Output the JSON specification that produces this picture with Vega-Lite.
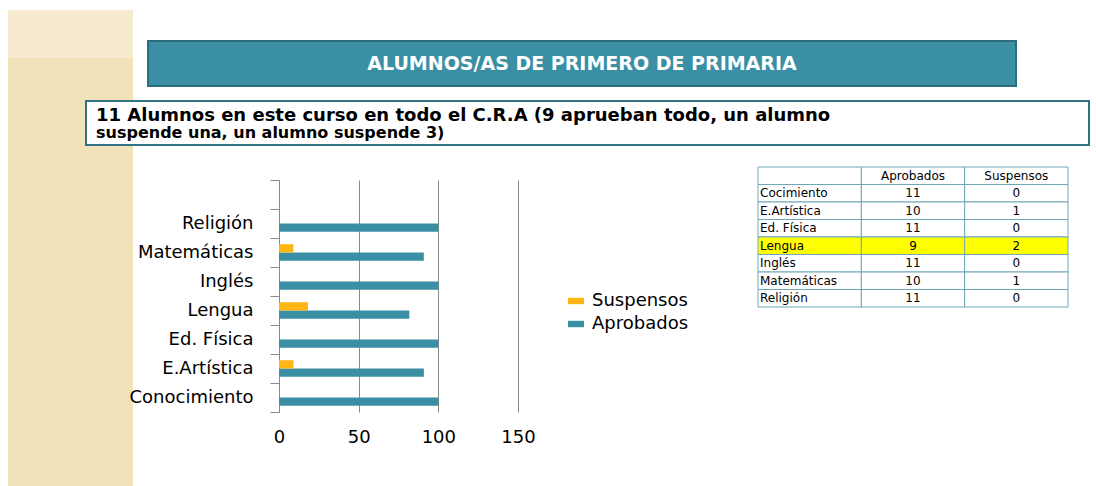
{
  "$schema": "https://vega.github.io/schema/vega-lite/v6.json",
  "background": "white",
  "padding": {"left": 8, "top": 10, "right": 0, "bottom": 0},
  "config": {
    "view": {"stroke": null},
    "font": "DejaVu Sans",
    "concat": {"spacing": 0}
  },
  "datasets": {
    "vacio": [],
    "cabecera": [{"texto": "ALUMNOS/AS DE PRIMERO DE PRIMARIA"}],
    "resultados": [
      {"asignatura": "Conocimiento", "serie": "Aprobados", "valor": 100},
      {"asignatura": "Conocimiento", "serie": "Suspensos", "valor": 0},
      {"asignatura": "E.Artística", "serie": "Aprobados", "valor": 90.9},
      {"asignatura": "E.Artística", "serie": "Suspensos", "valor": 9.1},
      {"asignatura": "Ed. Física", "serie": "Aprobados", "valor": 100},
      {"asignatura": "Ed. Física", "serie": "Suspensos", "valor": 0},
      {"asignatura": "Lengua", "serie": "Aprobados", "valor": 81.8},
      {"asignatura": "Lengua", "serie": "Suspensos", "valor": 18.2},
      {"asignatura": "Inglés", "serie": "Aprobados", "valor": 100},
      {"asignatura": "Inglés", "serie": "Suspensos", "valor": 0},
      {"asignatura": "Matemáticas", "serie": "Aprobados", "valor": 90.9},
      {"asignatura": "Matemáticas", "serie": "Suspensos", "valor": 9.1},
      {"asignatura": "Religión", "serie": "Aprobados", "valor": 100},
      {"asignatura": "Religión", "serie": "Suspensos", "valor": 0}
    ],
    "tabla": [
      {"Asignatura": "", "Aprobados": "Aprobados", "Suspensos": "Suspensos"},
      {"Asignatura": "Cocimiento", "Aprobados": "11", "Suspensos": "0"},
      {"Asignatura": "E.Artística", "Aprobados": "10", "Suspensos": "1"},
      {"Asignatura": "Ed. Física", "Aprobados": "11", "Suspensos": "0"},
      {"Asignatura": "Lengua", "Aprobados": "9", "Suspensos": "2"},
      {"Asignatura": "Inglés", "Aprobados": "11", "Suspensos": "0"},
      {"Asignatura": "Matemáticas", "Aprobados": "10", "Suspensos": "1"},
      {"Asignatura": "Religión", "Aprobados": "11", "Suspensos": "0"}
    ]
  },
  "spacing": 78,
  "bounds": "flush",
  "hconcat": [
    {
      "vconcat": [
        {
          "width": 125, "height": 476, "data": {"name": "vacio"}, "mark": "rect",
          "view": {
            "fill": {"gradient": "linear", "x1": 0, "y1": 0, "x2": 0, "y2": 1, "stops": [
              {"offset": 0, "color": "#f6ebd1"}, {"offset": 0.1, "color": "#f6ebd1"},
              {"offset": 0.1, "color": "#f2e2b9"}, {"offset": 1, "color": "#f2e2b9"}
            ]},
            "stroke": null
          }
        }
      ]
    },
    {
      "spacing": 0,
      "vconcat": [
        {"width": 1, "height": 30, "data": {"name": "vacio"}, "mark": "rect"},
        {
          "hconcat": [
            {"width": 62, "height": 45, "data": {"name": "vacio"}, "mark": "rect"},
            {
              "width": 868, "height": 45,
              "data": {"name": "cabecera"},
              "mark": {"type": "text", "color": "#ffffff", "fontSize": 19, "fontWeight": "bold", "baseline": "middle", "font": "DejaVu Sans"},
              "encoding": {"text": {"field": "texto"}},
              "view": {"fill": "#3a8fa5", "stroke": "#2b6c7d", "strokeWidth": 2}
            }
          ],
          "spacing": 0, "bounds": "flush"
        },
        {"width": 1, "height": 13, "data": {"name": "vacio"}, "mark": "rect"},
        {
          "width": 1003, "height": 44,
          "data": {"name": "vacio"}, "mark": "rect",
          "view": {"fill": "#ffffff", "stroke": "#2f7384", "strokeWidth": 2},
          "title": {
            "text": "11 Alumnos en este curso en todo el C.R.A (9 aprueban todo, un alumno",
            "subtitle": "suspende una, un alumno suspende 3)",
            "anchor": "start", "frame": "group", "offset": -40, "dx": 10,
            "font": "DejaVu Sans", "fontSize": 18, "fontWeight": "bold", "color": "#000000",
            "subtitleFont": "DejaVu Sans", "subtitleFontSize": 16, "subtitleFontWeight": "bold", "subtitleColor": "#000000",
            "subtitlePadding": 0
          }
        },
        {"width": 1, "height": 20, "data": {"name": "vacio"}, "mark": "rect"},
        {
          "hconcat": [
            {"width": 193, "height": 232, "data": {"name": "vacio"}, "mark": "rect"},
            {
              "width": 239, "height": 232,
              "data": {"name": "resultados"},
              "mark": {"type": "bar"},
              "encoding": {
                "y": {
                  "field": "asignatura", "type": "nominal",
                  "scale": {"domain": [" ", "Religión", "Matemáticas", "Inglés", "Lengua", "Ed. Física", "E.Artística", "Conocimiento"], "paddingInner": 0, "paddingOuter": 0},
                  "axis": {"title": null, "tickBand": "extent", "tickSize": 9, "tickColor": "#8a8a8a", "domainColor": "#8a8a8a", "labelFontSize": 18, "labelColor": "#000000", "labelPadding": 17, "grid": false, "labelFont": "DejaVu Sans"}
                },
                "yOffset": {"field": "serie", "type": "nominal", "scale": {"domain": ["Suspensos", "Aprobados"], "paddingInner": 0, "paddingOuter": 0.75}},
                "x": {
                  "field": "valor", "type": "quantitative",
                  "scale": {"domain": [0, 150], "nice": false},
                  "axis": {"title": null, "values": [0, 50, 100, 150], "grid": true, "gridColor": "#8a8a8a", "domain": false, "ticks": false, "labelFontSize": 18, "labelPadding": 16, "labelColor": "#000000", "labelFlush": false, "labelFont": "DejaVu Sans"}
                },
                "color": {
                  "field": "serie", "type": "nominal",
                  "scale": {"domain": ["Suspensos", "Aprobados"], "range": ["#ffb612", "#3a8fa5"]},
                  "legend": {"title": null, "orient": "none", "legendX": 559, "legendY": 282, "labelFontSize": 18, "labelFont": "DejaVu Sans", "labelColor": "#000000", "symbolType": "M-1,-0.4H1V0.4H-1Z", "symbolSize": 256, "symbolStrokeWidth": 0, "labelOffset": 7, "rowPadding": 5, "padding": 0}
                }
              }
            },
            {"width": 240, "height": 232, "data": {"name": "vacio"}, "mark": "rect"},
            {
              "width": 310, "height": 140,
              "data": {"name": "tabla"},
              "transform": [{"fold": ["Asignatura", "Aprobados", "Suspensos"], "as": ["columna", "texto"]}],
              "layer": [
                {
                  "mark": {"type": "rect", "stroke": "#6fa6b8", "strokeWidth": 1},
                  "encoding": {
                    "x": {"field": "columna", "type": "nominal", "sort": ["Asignatura", "Aprobados", "Suspensos"], "scale": {"paddingInner": 0, "paddingOuter": 0}, "axis": null},
                    "y": {"field": "Asignatura", "type": "nominal", "sort": null, "scale": {"range": [-13, 127], "paddingInner": 0, "paddingOuter": 0}, "axis": null},
                    "fill": {"condition": {"test": "datum.Asignatura === 'Lengua'", "value": "#ffff00"}, "value": "#ffffff"}
                  }
                },
                {
                  "transform": [{"filter": "datum.columna === 'Asignatura'"}],
                  "mark": {"type": "text", "align": "left", "dx": 2, "fontSize": 12, "color": "#000000", "font": "DejaVu Sans"},
                  "encoding": {
                    "x": {"field": "columna", "type": "nominal", "sort": ["Asignatura", "Aprobados", "Suspensos"], "bandPosition": 0, "axis": null},
                    "y": {"field": "Asignatura", "type": "nominal", "sort": null, "axis": null},
                    "text": {"field": "texto"}
                  }
                },
                {
                  "transform": [{"filter": "datum.columna !== 'Asignatura'"}],
                  "mark": {"type": "text", "align": "center", "fontSize": 12, "color": "#000000", "font": "DejaVu Sans"},
                  "encoding": {
                    "x": {"field": "columna", "type": "nominal", "sort": ["Asignatura", "Aprobados", "Suspensos"], "axis": null},
                    "y": {"field": "Asignatura", "type": "nominal", "sort": null, "axis": null},
                    "text": {"field": "texto"}
                  }
                }
              ]
            }
          ],
          "spacing": 0, "bounds": "flush"
        }
      ]
    }
  ]
}
